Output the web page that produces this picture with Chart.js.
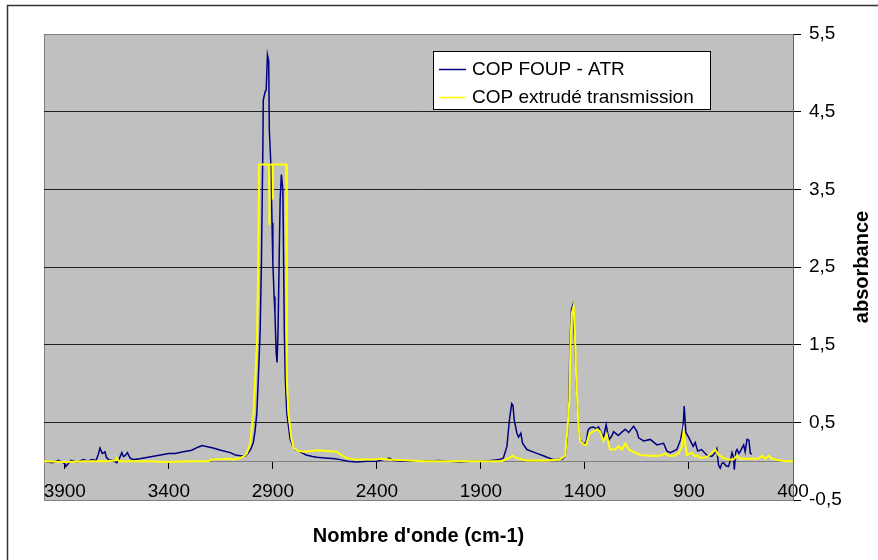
<!DOCTYPE html>
<html>
<head>
<meta charset="utf-8">
<script src="https://cdn.jsdelivr.net/npm/chart.js@4/dist/chart.umd.min.js"></script>
<style>
  body { margin: 0; background: #fff; }
  #chart { display: block; }
</style>
</head>
<body>
<canvas id="chart" width="878" height="560"></canvas>
<script>
// tick values
const xTicks = [3900, 3400, 2900, 2400, 1900, 1400, 900, 400];
const yTicks = [-0.5, 0.5, 1.5, 2.5, 3.5, 4.5, 5.5];

const seriesNames = ["COP FOUP - ATR", "COP extrudé transmission"];

// COP FOUP - ATR : wavenumber (cm-1) / absorbance
const atrWn = [4000, 3960, 3930, 3900, 3895, 3870, 3840, 3810, 3790, 3770, 3750, 3740, 3731, 3720, 3712, 3707,
  3700, 3690, 3670, 3650, 3640, 3626, 3618, 3610, 3599, 3586, 3570, 3540, 3500, 3460, 3420, 3400, 3370, 3330,
  3290, 3260, 3240, 3220, 3187, 3150, 3105, 3080, 3057, 3035, 3020, 3005, 2994, 2985, 2977, 2970, 2961, 2955,
  2948, 2946, 2937, 2932, 2926, 2920, 2917, 2910, 2904, 2900, 2894, 2890, 2884, 2880, 2875, 2870, 2865, 2859,
  2852, 2849, 2845, 2840, 2833, 2817, 2805, 2793, 2769, 2740, 2710, 2689, 2650, 2600, 2577, 2540, 2496, 2450,
  2400, 2370, 2352, 2340, 2320, 2280, 2178, 2100, 2000, 1950, 1900, 1850, 1810, 1792, 1775, 1763, 1752, 1746,
  1740, 1727, 1719, 1708, 1700, 1679, 1650, 1631, 1600, 1583, 1550, 1511, 1495, 1485, 1479, 1472, 1465, 1458,
  1450, 1440, 1432, 1423, 1407, 1394, 1385, 1375, 1360, 1345, 1335, 1320, 1311, 1298, 1290, 1283, 1270, 1262,
  1240, 1220, 1206, 1190, 1166, 1150, 1142, 1118, 1086, 1054, 1022, 1006, 990, 958, 940, 928, 923, 915, 900,
  880, 870, 858, 840, 815, 790, 774, 766, 758, 750, 742, 734, 722, 710, 700, 693, 686, 682, 675, 669, 660, 653,
  645, 637, 630, 621, 612, 605, 597];
const atrAbs = [0.0, -0.02, 0.01, -0.03, -0.07, 0.01, -0.01, 0.02, 0.0, 0.02, 0.01, 0.08, 0.17, 0.1, 0.11, 0.12,
  0.05, 0.02, 0.01, -0.02, 0.02, 0.11, 0.06, 0.07, 0.11, 0.04, 0.02, 0.03, 0.05, 0.07, 0.09, 0.1, 0.1, 0.12,
  0.14, 0.18, 0.2, 0.19, 0.17, 0.14, 0.11, 0.08, 0.07, 0.06, 0.1, 0.16, 0.24, 0.4, 0.62, 1.05, 1.69, 2.55,
  4.05, 4.65, 4.76, 4.78, 5.23, 5.15, 4.27, 3.84, 3.07, 2.55, 2.12, 1.91, 1.4, 1.27, 1.69, 2.55, 3.37, 3.69,
  3.49, 2.76, 1.69, 1.05, 0.62, 0.28, 0.2, 0.15, 0.12, 0.08, 0.06, 0.05, 0.04, 0.03, 0.02, 0.0, -0.01, 0.0,
  0.0, 0.02, 0.03, 0.04, 0.01, 0.0, 0.0, 0.01, -0.01, 0.0, 0.0, 0.01, 0.02, 0.04, 0.19, 0.53, 0.74, 0.72,
  0.53, 0.36, 0.31, 0.36, 0.23, 0.15, 0.12, 0.1, 0.07, 0.05, 0.02, 0.02, 0.06, 0.3, 0.62, 1.48, 1.95, 2.01,
  1.56, 0.92, 0.49, 0.28, 0.21, 0.25, 0.4, 0.43, 0.44, 0.42, 0.44, 0.36, 0.3, 0.47, 0.35, 0.28, 0.33, 0.38,
  0.33, 0.38, 0.41, 0.37, 0.45, 0.38, 0.3, 0.26, 0.28, 0.21, 0.23, 0.13, 0.11, 0.15, 0.28, 0.45, 0.71, 0.37, 0.3,
  0.19, 0.24, 0.13, 0.15, 0.08, 0.06, 0.11, 0.16, -0.05, -0.09, -0.03, -0.02, -0.06, -0.07, 0.02, 0.11, 0.05, -0.11, 0.12, 0.15, 0.1, 0.13,
  0.17, 0.21, 0.12, 0.28, 0.27, 0.1, 0.09];

// COP extrudé transmission
const transWn = [4000, 3900, 3800, 3700, 3655, 3650, 3640, 3500, 3400, 3300, 3210, 3200, 3105, 3090, 3057, 3040,
  3025, 3009, 2993, 2985, 2977, 2970, 2966, 2918, 2917, 2916, 2901, 2900, 2899, 2836, 2833, 2825, 2817, 2810,
  2800, 2777, 2750, 2721, 2680, 2641, 2593, 2577, 2545, 2500, 2417, 2368, 2340, 2250, 2176, 1984, 1900, 1800,
  1775, 1760, 1745, 1730, 1700, 1679, 1583, 1520, 1495, 1484, 1475, 1470, 1463, 1455, 1449, 1443, 1432, 1423,
  1407, 1394, 1378, 1360, 1342, 1327, 1311, 1295, 1280, 1255, 1238, 1222, 1206, 1190, 1174, 1134, 1086, 1038,
  1014, 998, 974, 950, 934, 926, 918, 910, 886, 870, 858, 846, 814, 790, 774, 758, 734, 710, 686, 670, 654,
  590, 566, 549, 533, 517, 501, 461, 430, 400];
const transAbs = [0.0, -0.01, 0.0, 0.0, 0.01, 0.04, 0.0, 0.0, -0.01, 0.0, 0.0, 0.02, 0.03, 0.02, 0.04, 0.06,
  0.1, 0.23, 0.62, 1.05, 1.48, 2.55, 3.82, 3.82, 3.04, 3.82, 3.82, 3.37, 3.82, 3.82, 1.05, 0.62, 0.43, 0.28,
  0.17, 0.13, 0.12, 0.13, 0.14, 0.13, 0.12, 0.09, 0.04, 0.02, 0.02, 0.03, 0.02, 0.01, 0.0, 0.0, 0.0, 0.0,
  0.03, 0.05, 0.07, 0.04, 0.02, 0.01, 0.01, 0.02, 0.07, 0.41, 0.79, 1.48, 1.91, 1.99, 1.69, 1.14, 0.49, 0.26,
  0.21, 0.21, 0.36, 0.38, 0.41, 0.38, 0.26, 0.34, 0.15, 0.15, 0.19, 0.15, 0.23, 0.15, 0.13, 0.08, 0.07, 0.07,
  0.1, 0.07, 0.07, 0.1, 0.19, 0.38, 0.23, 0.08, 0.11, 0.06, 0.08, 0.04, 0.05, 0.11, 0.15, 0.08, 0.04, 0.02, 0.02, 0.07, 0.03,
  0.03, 0.03, 0.07, 0.03, 0.07, 0.03, 0.01, 0.0, 0.0];

const toPoints = (xs, ys) => xs.map((x, i) => ({ x: x, y: ys[i] }));

Chart.defaults.font.family = 'Arial, "Liberation Sans", sans-serif';
Chart.defaults.font.size = 19;
Chart.defaults.color = "#000";

// grey plot area + outer frame
const backgroundPlugin = {
  id: "background",
  beforeDraw(chart) {
    const ctx = chart.ctx;
    const a = chart.chartArea;
    ctx.save();
    ctx.strokeStyle = "#333";
    ctx.lineWidth = 1.5;
    ctx.strokeRect(7.5, 5.5, 1000, 1000);
    ctx.fillStyle = "#c0c0c0";
    ctx.fillRect(a.left, a.top, a.right - a.left, a.bottom - a.top);
    ctx.strokeStyle = "#808080";
    ctx.lineWidth = 1;
    ctx.strokeRect(a.left + 0.5, a.top + 0.5, a.right - a.left, a.bottom - a.top);
    ctx.restore();
  }
};

// legend box inside the plot, and the axis titles
const labelsPlugin = {
  id: "labels",
  afterDraw(chart) {
    const ctx = chart.ctx;
    const a = chart.chartArea;
    ctx.save();
    // legend
    ctx.fillStyle = "#fff";
    ctx.fillRect(433, 51, 277, 58);
    ctx.strokeStyle = "#000";
    ctx.lineWidth = 1;
    ctx.strokeRect(433.5, 51.5, 277, 58);
    ctx.font = '19px Arial, "Liberation Sans", sans-serif';
    ctx.textBaseline = "middle";
    ctx.textAlign = "left";
    chart.data.datasets.forEach((ds, i) => {
      const y = 69.5 + i * 28;
      ctx.strokeStyle = ds.borderColor;
      ctx.lineWidth = 1.5;
      ctx.beginPath();
      ctx.moveTo(439, y);
      ctx.lineTo(466, y);
      ctx.stroke();
      ctx.fillStyle = "#000";
      ctx.fillText(ds.label, 472, y);
    });
    // axis titles
    ctx.font = 'bold 20px Arial, "Liberation Sans", sans-serif';
    ctx.textAlign = "center";
    ctx.fillText("Nombre d'onde (cm-1)", (a.left + a.right) / 2, 536);
    ctx.translate(862, (a.top + a.bottom) / 2);
    ctx.rotate(-Math.PI / 2);
    ctx.fillText("absorbance", 0, 0);
    ctx.restore();
  }
};

new Chart(document.getElementById("chart"), {
  type: "line",
  data: {
    datasets: [
      {
        label: seriesNames[0],
        data: toPoints(atrWn, atrAbs),
        borderColor: "#000080",
        borderWidth: 1.5,
        pointRadius: 0,
        tension: 0,
        order: 1
      },
      {
        label: seriesNames[1],
        data: toPoints(transWn, transAbs),
        borderColor: "#ffff00",
        borderWidth: 2,
        pointRadius: 0,
        tension: 0,
        order: 0
      }
    ]
  },
  options: {
    responsive: false,
    animation: false,
    layout: { padding: { left: 44, top: 34, right: 0, bottom: 60 } },
    plugins: {
      legend: { display: false },
      tooltip: { enabled: false }
    },
    scales: {
      x: {
        type: "linear",
        reverse: true,
        min: 400,
        max: 4000,
        position: { y: 0 },
        afterBuildTicks: scale => { scale.ticks = xTicks.map(v => ({ value: v })); },
        border: { color: "#808080", width: 1 },
        grid: { drawOnChartArea: false, tickLength: 7, tickColor: "#000" },
        ticks: {
          autoSkip: false,
          maxRotation: 0,
          padding: 12,
          callback: v => String(v)
        }
      },
      y: {
        type: "linear",
        position: "right",
        min: -0.5,
        max: 5.5,
        afterBuildTicks: scale => { scale.ticks = yTicks.map(v => ({ value: v })); },
        afterFit: scale => { scale.width = 85; },
        border: { color: "#606060", width: 1 },
        grid: {
          color: ctx => (ctx.tick && (ctx.tick.value === -0.5 || ctx.tick.value === 5.5)) ? "#808080" : "#202020",
          tickLength: 8,
          tickColor: "#000"
        },
        ticks: {
          padding: 8,
          callback: v => v.toFixed(1).replace(".", ",")
        }
      }
    }
  },
  plugins: [backgroundPlugin, labelsPlugin]
});
</script>
</body>
</html>
